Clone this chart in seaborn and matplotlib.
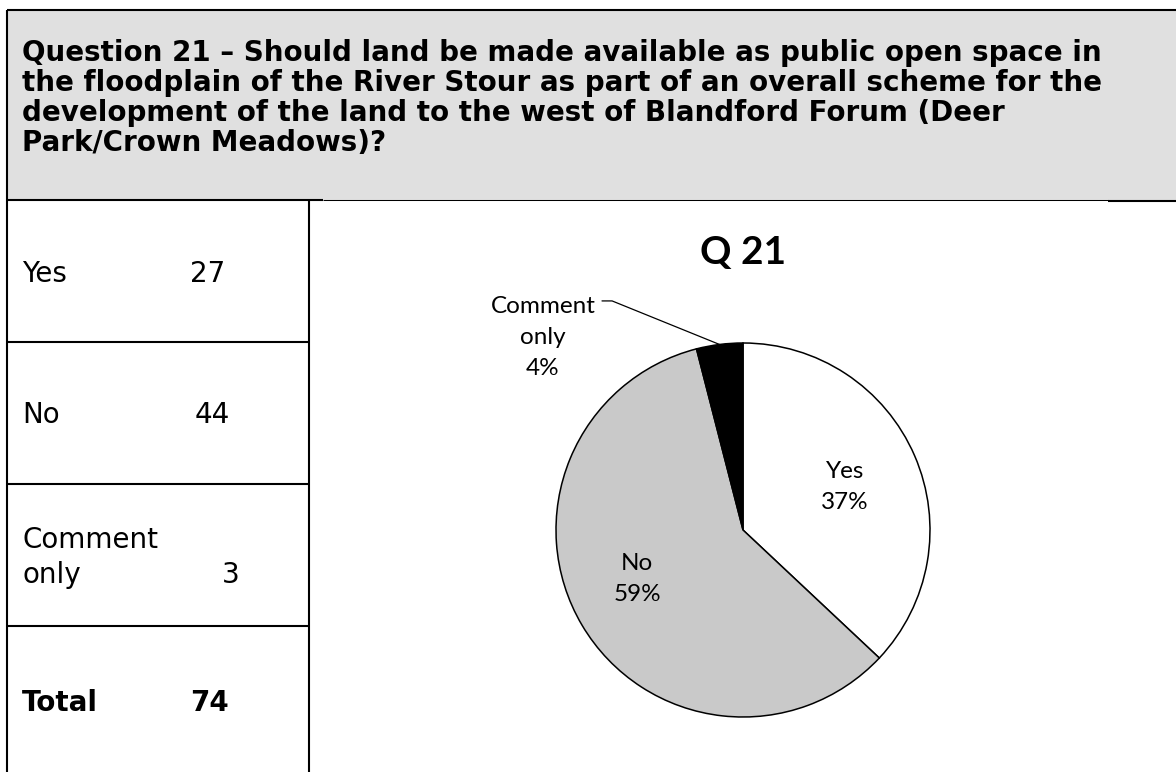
import matplotlib
matplotlib.use("Agg")
import matplotlib.pyplot as plt
import numpy as np
import seaborn as sns

# Survey counts shown in the table
answers = ["Yes", "No", "Comment\nonly"]
counts = [27, 44, 3]
total = sum(counts)

# Percentage shares shown on the pie
pie_labels = ["Yes", "No", "Comment\nonly"]
pie_shares = [37, 59, 4]
pie_colors = ["#FFFFFF", "#C9C9C9", "#000000"]

question_lines = [
    "Question 21 \u2013 Should land be made available as public open space in",
    "the floodplain of the River Stour as part of an overall scheme for the",
    "development of the land to the west of Blandford Forum (Deer",
    "Park/Crown Meadows)?",
]
chart_title = "Q 21"

sns.set_theme(style="white")
plt.rcParams["font.family"] = ["DejaVu Sans"]
plt.rcParams["text.color"] = "black"

W, H = 1176, 772
fig = plt.figure(figsize=(W / 100, H / 100), dpi=100)
fig.patch.set_facecolor("white")

# Page layout drawn in pixel coordinates
lay = fig.add_axes([0, 0, 1, 1])
lay.set_xlim(0, W)
lay.set_ylim(H, 0)
lay.axis("off")

thick, thin = 1.5, 0.75
lay.add_patch(plt.Rectangle((7, 10), W - 7 + 5, 189.5, facecolor="#E0E0E0",
                            edgecolor="none", zorder=0))
lay.plot([7, W + 5], [10, 10], color="black", lw=thick, solid_capstyle="butt")
lay.plot([7, 7], [10, H + 5], color="black", lw=thick, solid_capstyle="butt")
lay.plot([7, 323], [200, 200], color="black", lw=thick, solid_capstyle="butt")
lay.plot([323, 1108], [199.5, 199.5], color="black", lw=thin, solid_capstyle="butt")
lay.plot([1108, W + 5], [200.5, 200.5], color="black", lw=thick, solid_capstyle="butt")
lay.plot([309, 309], [200, H + 5], color="black", lw=thick, solid_capstyle="butt")
for yy in (342, 484, 626):
    lay.plot([7, 309], [yy, yy], color="black", lw=thick, solid_capstyle="butt")

# Question header
for i, line in enumerate(question_lines):
    lay.text(22, 61 + 30 * i, line, fontsize=20, fontweight="bold",
             va="baseline", ha="left", color="black")

# Table of counts
tfs = 20
lay.text(22, 282, answers[0], fontsize=tfs, va="baseline")
lay.text(190, 282, str(counts[0]), fontsize=tfs, va="baseline")
lay.text(22, 423, answers[1], fontsize=tfs, va="baseline")
lay.text(195, 423, str(counts[1]), fontsize=tfs, va="baseline")
c1, c2 = answers[2].split("\n")
lay.text(22, 548, c1, fontsize=tfs, va="baseline")
lay.text(22, 583, c2, fontsize=tfs, va="baseline")
lay.text(222, 583, str(counts[2]), fontsize=tfs, va="baseline")
lay.text(22, 711, "Total", fontsize=tfs, fontweight="bold", va="baseline")
lay.text(190, 711, str(total), fontsize=tfs, fontweight="bold", va="baseline")

# Pie chart
cx, cy, r = 743, 530, 187
ax = fig.add_axes([(cx - r) / W, (H - cy - r) / H, 2 * r / W, 2 * r / H])
wedges, _ = ax.pie(pie_shares, colors=pie_colors, startangle=90, counterclock=False,
                   radius=1.0,
                   wedgeprops=dict(edgecolor="black", linewidth=1.1))
ax.set_xlim(-1, 1)
ax.set_ylim(-1, 1)
ax.set_aspect("equal")
ax.axis("off")

lfont = ["Lato", "DejaVu Sans"]
lfs = 17.5
# label block centres, in pie units
label_pos = [(0.545, 0.23), (-0.567, -0.26), (-1.07, 1.03)]
for w, lab, share, (lx, ly) in zip(wedges, pie_labels, pie_shares, label_pos):
    ax.text(lx, ly, f"{lab}\n{share}%", ha="center", va="center", fontsize=lfs,
            family=lfont, linespacing=1.6, clip_on=False, color="black")

# leader line for the small slice
w = wedges[2]
mid = np.deg2rad((w.theta1 + w.theta2) / 2)
ex, ey = np.cos(mid), np.sin(mid)
ax.plot([-0.754, -0.70, ex], [1.225, 1.225, ey], color="black", lw=0.9,
        clip_on=False)

ax.text(0, 1.42, chart_title, ha="center", va="baseline", fontsize=28,
        fontweight="bold", family=lfont, clip_on=False, color="black")

fig.savefig("out.png", dpi=100, facecolor="white")
